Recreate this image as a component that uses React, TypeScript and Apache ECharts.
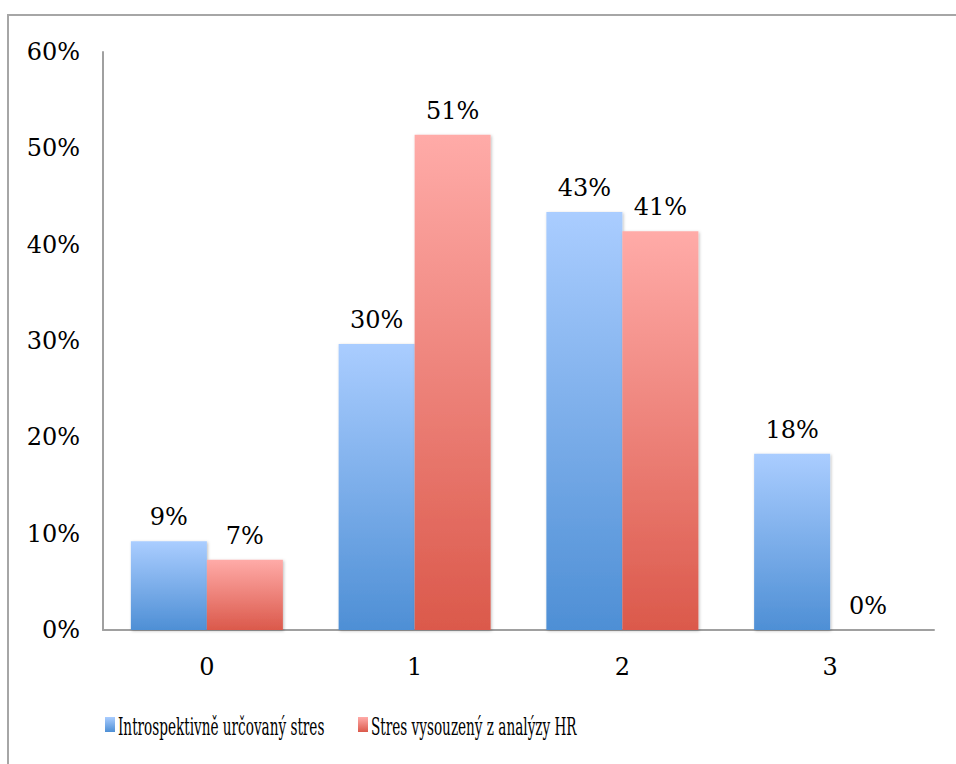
import React, { useEffect, useRef } from "react";
import * as echarts from "echarts";

const categories = ["0", "1", "2", "3"];
const introspective = [9.2, 29.7, 43.4, 18.3];
const hrAnalysis = [7.3, 51.4, 41.4, 0];
const seriesNames = ["Introspektivně určovaný stres", "Stres vysouzený z analýzy HR"];
const yTicks = [0, 10, 20, 30, 40, 50, 60];

const FONT = "DejaVu Serif";
const LEGEND_FONT = "'DejaVu Serif Condensed', 'DejaVu Serif', serif";

const BLUE = ["#aacdff", "#4e8fd5"];
const RED = ["#ffaba8", "#db594b"];

function grad(c: string[]) {
  return new echarts.graphic.LinearGradient(0, 0, 0, 1, [
    { offset: 0, color: c[0] },
    { offset: 1, color: c[1] },
  ]);
}

function legendEntry(iconX: number, name: string, colors: string[]) {
  return {
    type: "group",
    silent: true,
    children: [
      {
        type: "rect",
        shape: { x: iconX, y: 717, width: 10, height: 15 },
        style: { fill: grad(colors) },
      },
      {
        type: "text",
        x: iconX + 13,
        y: 727,
        scaleX: 0.63,
        style: {
          text: name,
          font: `24px ${LEGEND_FONT}`,
          fill: "#000",
          verticalAlign: "middle",
          align: "left",
        },
      },
    ],
  };
}

export default function App() {
  const ref = useRef<HTMLDivElement>(null);
  useEffect(() => {
    if (!ref.current) return;
    const chart = echarts.init(ref.current, undefined, { renderer: "svg" });
    const labelStyle = {
      show: true,
      position: "top" as const,
      distance: 12,
      fontFamily: FONT,
      fontSize: 24,
      color: "#000",
      formatter: (p: any) => `${Math.round(p.value)}%`,
    };
    const barShadow = {
      shadowColor: "rgba(0,0,0,0.25)",
      shadowBlur: 3,
      shadowOffsetX: 1,
      shadowOffsetY: 1,
    };
    chart.setOption({
      animation: false,
      backgroundColor: "#fff",
      graphic: [
        {
          type: "rect",
          shape: { x: 8, y: 15, width: 1000, height: 800 },
          style: { fill: "none", stroke: "#a6a6a6", lineWidth: 2 },
          silent: true,
        },
        legendEntry(105, seriesNames[0], BLUE),
        legendEntry(358, seriesNames[1], RED),
      ],
      grid: { left: 103, right: 22, top: 52, bottom: 134, containLabel: false },
      xAxis: {
        type: "category",
        data: categories,
        axisLine: { lineStyle: { color: "#a0a0a0", width: 2 } },
        axisTick: { show: false },
        axisLabel: { fontFamily: FONT, fontSize: 24, color: "#000", margin: 25 },
      },
      yAxis: {
        type: "value",
        min: 0,
        max: 60,
        interval: 10,
        axisLine: { show: true, lineStyle: { color: "#a0a0a0", width: 2 } },
        axisTick: { show: false },
        splitLine: { show: false },
        axisLabel: {
          fontFamily: FONT,
          fontSize: 24,
          color: "#000",
          margin: 23,
          formatter: (v: number) => (yTicks.includes(v) ? `${v}%` : ""),
        },
      },
      series: [
        {
          name: seriesNames[0],
          type: "bar",
          data: introspective,
          barWidth: 76,
          barGap: "0%",
          itemStyle: { color: grad(BLUE), ...barShadow },
          label: labelStyle,
        },
        {
          name: seriesNames[1],
          type: "bar",
          data: hrAnalysis,
          barWidth: 76,
          barGap: "0%",
          itemStyle: { color: grad(RED), ...barShadow },
          label: labelStyle,
        },
      ],
    });
    return () => chart.dispose();
  }, []);
  return (
    <div
      ref={ref}
      style={{ position: "absolute", left: 0, top: 0, width: 956, height: 764 }}
    />
  );
}
